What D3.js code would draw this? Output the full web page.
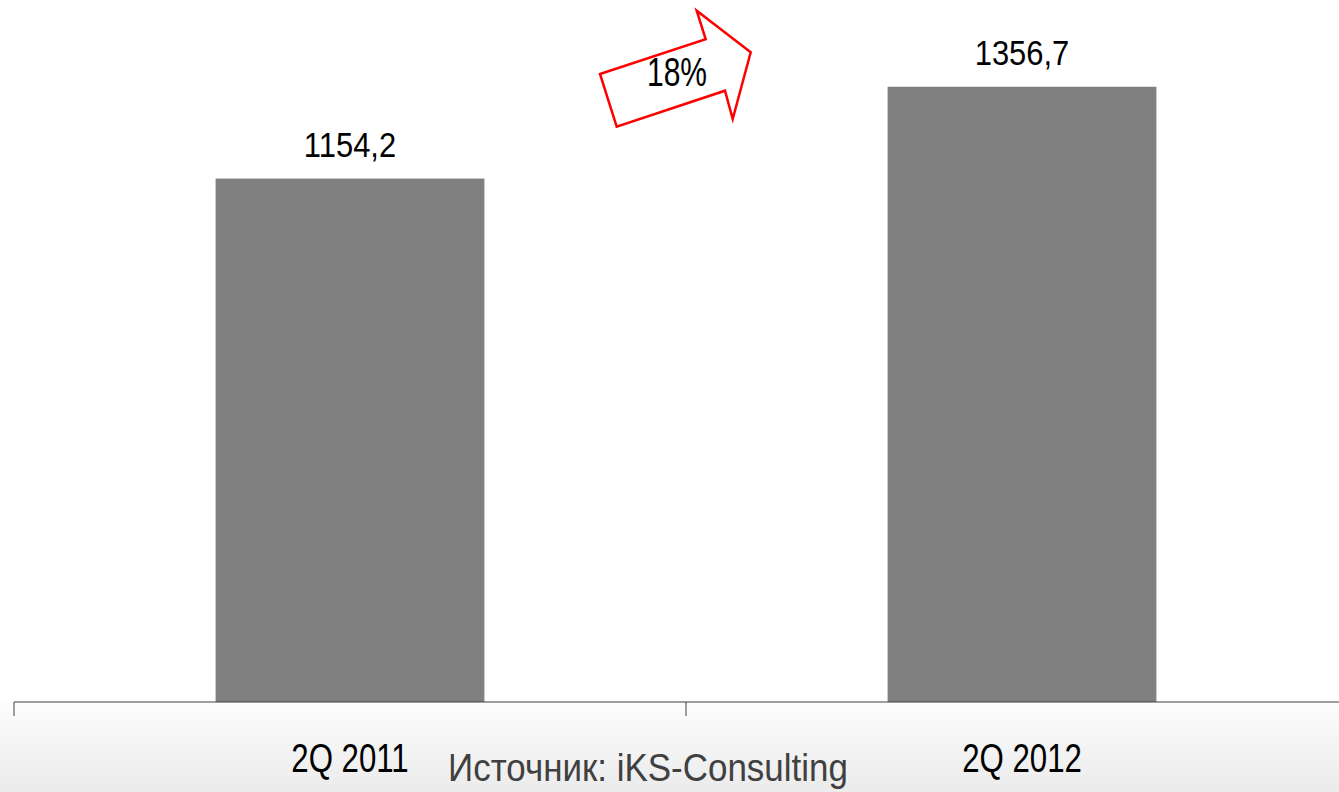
<!DOCTYPE html>
<html lang="ru">

<head>
    <meta charset="UTF-8" />
    <title>2Q 2011 vs 2Q 2012</title>
    <script src="https://d3js.org/d3.v7.min.js"></script>
    <style>
        html, body {
            margin: 0;
            padding: 0;
            background: #fff;
            overflow: hidden;
        }
        text {
            font-family: "Liberation Sans Narrow", "Arial Narrow", "Liberation Sans", Arial, sans-serif;
        }
    </style>
</head>

<body>
    <script>

        // data
        var categories = ["2Q 2011", "2Q 2012"];
        var values = [1154.2, 1356.7];
        var valueLabels = ["1154,2", "1356,7"];
        var sourceText = "Источник: iKS-Consulting";

        var w = 1339;
        var h = 792;
        var baseY = 702;

        var svg = d3.select("body")
            .append("svg")
            .attr("width", w)
            .attr("height", h);

        // the reference uses a condensed face, so squeeze text horizontally
        function squeeze(x, y, sx) {
            return "translate(" + x + "," + y + ") scale(" + sx + ",1)";
        }

        // soft grey band under the axis
        var grad = svg.append("defs")
            .append("linearGradient")
            .attr("id", "bottomFade")
            .attr("x1", 0).attr("y1", 0)
            .attr("x2", 0).attr("y2", 1);
        grad.append("stop").attr("offset", "0%").attr("stop-color", "#fdfdfd");
        grad.append("stop").attr("offset", "100%").attr("stop-color", "#ebebeb");

        svg.append("rect")
            .attr("x", 0)
            .attr("y", baseY)
            .attr("width", w)
            .attr("height", h - baseY)
            .attr("fill", "url(#bottomFade)");

        // scales
        var xScale = d3.scaleBand()
            .domain(categories)
            .range([14, 1358])
            .paddingInner(0.6)
            .paddingOuter(0.3);

        var yScale = d3.scaleLinear()
            .domain([0, 1400])
            .range([baseY, baseY - 0.4535 * 1400]);

        // bars
        svg.selectAll(".bar")
            .data(values)
            .enter()
            .append("rect")
            .attr("class", "bar")
            .attr("x", function (d, i) { return xScale(categories[i]); })
            .attr("y", function (d) { return yScale(d); })
            .attr("width", xScale.bandwidth())
            .attr("height", function (d) { return yScale(0) - yScale(d); })
            .attr("fill", "#808080");

        // value labels
        svg.selectAll(".val")
            .data(values)
            .enter()
            .append("text")
            .attr("class", "val")
            .attr("text-anchor", "middle")
            .attr("transform", function (d, i) {
                return squeeze(xScale(categories[i]) + xScale.bandwidth() / 2, yScale(d) - 22, 0.86);
            })
            .attr("font-size", 36)
            .attr("fill", "#000")
            .text(function (d, i) { return valueLabels[i]; });

        // x axis: line plus ticks at band edges
        var step = xScale.step();
        var edges = [14, 14 + step, 14 + 2 * step];
        svg.append("line")
            .attr("x1", 14).attr("x2", w)
            .attr("y1", baseY).attr("y2", baseY)
            .attr("stroke", "#404040")
            .attr("stroke-width", 1.2);
        svg.selectAll(".tick")
            .data(edges)
            .enter()
            .append("line")
            .attr("class", "tick")
            .attr("x1", function (d) { return d; })
            .attr("x2", function (d) { return d; })
            .attr("y1", baseY)
            .attr("y2", baseY + 14)
            .attr("stroke", "#404040")
            .attr("stroke-width", 1);

        // category labels
        svg.selectAll(".cat")
            .data(categories)
            .enter()
            .append("text")
            .attr("class", "cat")
            .attr("text-anchor", "middle")
            .attr("transform", function (d) {
                return squeeze(xScale(d) + xScale.bandwidth() / 2, 772, 0.78);
            })
            .attr("font-size", 40)
            .attr("fill", "#000")
            .text(function (d) { return d; });

        // source
        svg.append("text")
            .attr("text-anchor", "middle")
            .attr("transform", squeeze(648, 781, 0.92))
            .attr("font-size", 38)
            .attr("fill", "#404040")
            .text(sourceText);

        // growth arrow
        var growth = Math.round((values[1] / values[0] - 1) * 100) + "%";
        var arrowPts = [[600, 74], [705.7, 39.3], [696.7, 10.7], [750.7, 52.3],
                        [732.7, 119], [725, 90.7], [616.7, 126.7]];
        svg.append("path")
            .attr("d", d3.line()(arrowPts) + "Z")
            .attr("fill", "#fff")
            .attr("stroke", "#ff0000")
            .attr("stroke-width", 2.5)
            .attr("stroke-linejoin", "miter");

        svg.append("text")
            .attr("text-anchor", "middle")
            .attr("transform", squeeze(677, 86, 0.75))
            .attr("font-size", 40)
            .attr("fill", "#000")
            .text(growth);

    </script>
</body>

</html>
